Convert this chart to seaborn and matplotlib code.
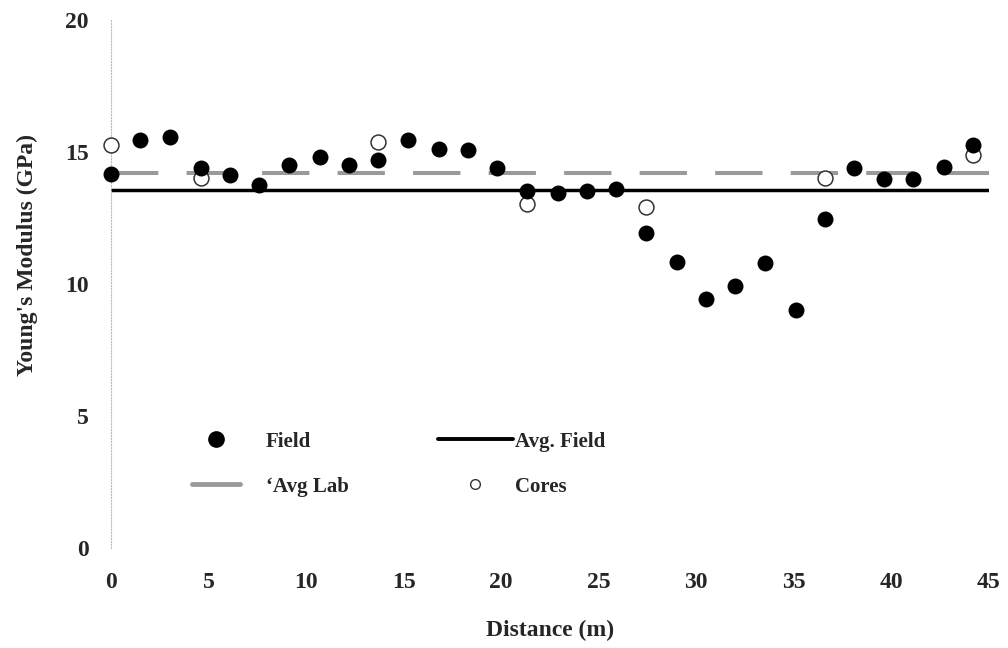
import seaborn as sns
import matplotlib.pyplot as plt
from matplotlib.lines import Line2D

# field readings along the line (m, GPa)
field_dist = [0.0, 1.5, 3.0, 4.6, 6.1, 7.6, 9.1, 10.7, 12.2, 13.7,
              15.2, 16.8, 18.3, 19.8, 21.3, 22.9, 24.4, 25.9, 27.4, 29.0,
              30.5, 32.0, 33.5, 35.1, 36.6, 38.1, 39.6, 41.1, 42.7, 44.2]
field_mod = [14.17, 15.45, 15.57, 14.39, 14.13, 13.75, 14.50, 14.81, 14.50, 14.70,
             15.45, 15.10, 15.08, 14.39, 13.52, 13.45, 13.52, 13.60, 11.93, 10.83,
             9.43, 9.92, 10.80, 9.00, 12.46, 14.39, 13.97, 13.97, 14.43, 15.27]

# lab cores
core_dist = [0.0, 4.6, 13.7, 21.3, 27.4, 36.6, 44.2]
core_mod = [15.27, 14.00, 15.38, 13.03, 12.92, 14.00, 14.89]

avg_field = 13.55
avg_lab = 14.21
line_x = [0, 45]

x_ticks = [0, 5, 10, 15, 20, 25, 30, 35, 40, 45]
y_ticks = [0, 5, 10, 15, 20]

sns.set_theme(style="white")
plt.rcParams['font.family'] = ['Liberation Serif', 'DejaVu Serif']
plt.rcParams['font.weight'] = 'bold'

fig = plt.figure(figsize=(10.08, 6.48), dpi=100)
ax = fig.add_axes([0.1101, 0.1543, 0.8710, 0.8148])

# average lines
ax.plot(line_x, [avg_field, avg_field], color='black', lw=2.5, zorder=2)
ax.plot(line_x, [avg_lab, avg_lab], color='#9a9a9a', lw=2.9,
        dashes=(11.75, 7), zorder=2)

sns.scatterplot(x=core_dist, y=core_mod, ax=ax, s=115, color='white',
                edgecolor='#333333', linewidth=1.1, clip_on=False, zorder=3)
sns.scatterplot(x=field_dist, y=field_mod, ax=ax, s=132, color='black',
                edgecolor='black', linewidth=0, clip_on=False, zorder=4)

ax.set_xlim(0, 45)
ax.set_ylim(0, 20)
ax.set_xticks(x_ticks)
ax.set_yticks(y_ticks)
ax.tick_params(axis='x', labelsize=17, length=2, color='#bbbbbb', direction='in', pad=17)
ax.tick_params(axis='y', labelsize=17, length=2, color='#bbbbbb', direction='in', pad=16)

for s in ['top', 'right', 'bottom']:
    ax.spines[s].set_visible(False)
ax.spines['left'].set_linestyle(':')
ax.spines['left'].set_color('#bbbbbb')
ax.spines['left'].set_linewidth(0.8)

ax.set_xlabel('Distance (m)', fontsize=17, fontweight='bold')
ax.set_ylabel("Young's Modulus (GPa)", fontsize=17, fontweight='bold')
ax.xaxis.set_label_coords(0.5, -0.136)
ax.yaxis.set_label_coords(-0.083, 0.555)

# legend, two separate columns like the original
h_field = Line2D([], [], ls='none', marker='o', ms=11, color='black')
h_lab = Line2D([], [], color='#9a9a9a', lw=3.5)
h_avg = Line2D([], [], color='black', lw=2.8)
h_core = Line2D([], [], ls='none', marker='o', ms=7, mfc='white',
                mec='#333333', mew=1)

leg1 = ax.legend([h_field, h_lab], ['Field', '\u2018Avg Lab'],
                 loc='center left', bbox_to_anchor=(4.15, 3.18),
                 bbox_transform=ax.transData, frameon=False,
                 fontsize=15, handlelength=2.3, handletextpad=1.25,
                 labelspacing=1.2, borderpad=0, borderaxespad=0)
ax.add_artist(leg1)
ax.legend([h_avg, h_core], ['Avg. Field', 'Cores'],
          loc='center left', bbox_to_anchor=(16.76, 3.18),
          bbox_transform=ax.transData, frameon=False,
          fontsize=15, handlelength=3.6, handletextpad=0.1,
          labelspacing=1.2, borderpad=0, borderaxespad=0)

fig.savefig('out.png', dpi=100)
